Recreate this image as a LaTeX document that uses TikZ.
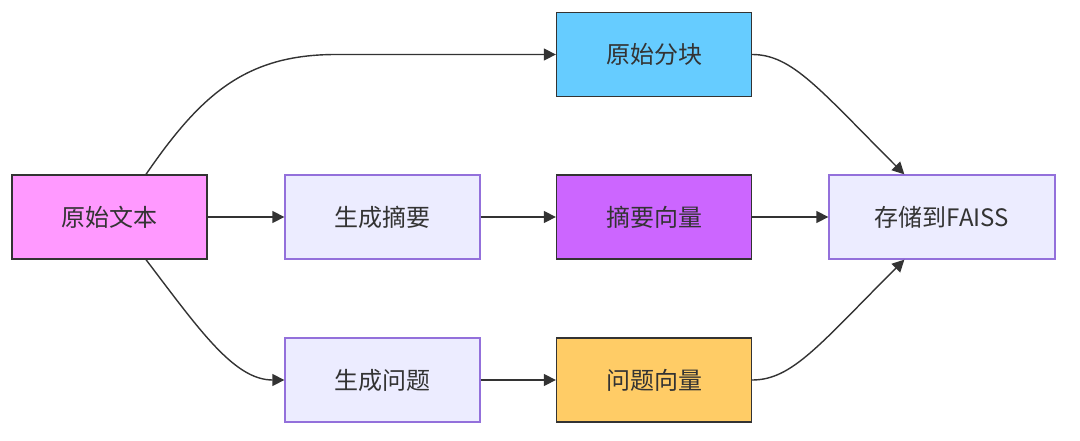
\documentclass[tikz,border=0pt]{standalone}
\usepackage{fontspec}
\setmainfont{Noto Sans CJK SC}
\usetikzlibrary{arrows.meta,calc}
\definecolor{txt}{HTML}{333333}
\definecolor{edge}{HTML}{333333}
\definecolor{defFill}{HTML}{ECECFF}
\definecolor{defLine}{HTML}{9370DB}
\definecolor{pinkFill}{HTML}{FF99FF}
\definecolor{blueFill}{HTML}{66CCFF}
\definecolor{purpleFill}{HTML}{CC66FF}
\definecolor{orangeFill}{HTML}{FFCC66}
\begin{document}
\begin{tikzpicture}[x=1pt,y=-1pt,
  box/.style={draw=defLine, fill=defFill, line width=1.3pt, minimum width=195pt, minimum height=84pt,
    inner sep=0pt, text=txt, font=\fontsize{24}{29}\selectfont},
  custom/.style={box, draw=edge},
  link/.style={draw=edge, line width=1.4pt, -{Triangle[length=12pt,width=12pt]}}]
\useasboundingbox (0,0) rectangle (1080,440);
\node[custom, fill=pinkFill] (src) at (109.5,217) {原始文本};
\node[box] (sum) at (382.5,217) {生成摘要};
\node[custom, fill=purpleFill] (sumvec) at (654,217) {摘要向量};
\node[box, minimum width=226pt] (faiss) at (942,217) {存储到FAISS};
\node[custom, fill=blueFill] (chunk) at (654,54.5) {原始分块};
\node[box] (q) at (382.5,380) {生成问题};
\node[custom, fill=orangeFill] (qvec) at (654,380) {问题向量};

\draw[link] ($(src.north)+(36.5,0)$) .. controls +(55,-80) and +(-90,0) .. ($(chunk.west)+(-220,0)$) -- (chunk.west);
\draw[link] (src.east) -- (sum.west);
\draw[link] ($(src.south)+(36.5,0)$) .. controls +(54,71) and +(-50,0) .. (q.west);
\draw[link] (sum.east) -- (sumvec.west);
\draw[link] (q.east) -- (qvec.west);
\draw[link] (sumvec.east) -- (faiss.west);
\draw[link] (chunk.east) .. controls +(40,0) and +(-85,-85) .. ($(faiss.north west)+(76,0)$);
\draw[link] (qvec.east) .. controls +(40,0) and +(-85,85) .. ($(faiss.south west)+(76,0)$);
\end{tikzpicture}
\end{document}
